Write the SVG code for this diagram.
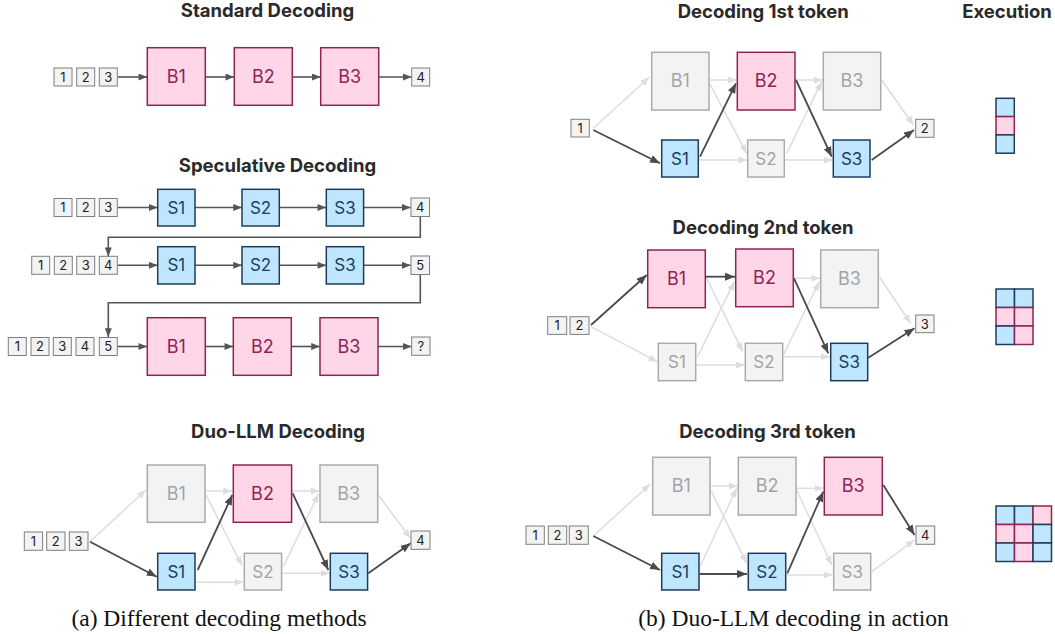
<svg xmlns="http://www.w3.org/2000/svg" width="1055" height="634" viewBox="0 0 1055 634">
<defs>
<style>
.title{font-family:Inter,"Liberation Sans",sans-serif;font-weight:700;font-size:18.5px;fill:#2a2a2a;text-anchor:middle}
.cap{font-family:"Liberation Serif","Times New Roman",serif;font-size:23.5px;fill:#111;text-anchor:middle}
.bp{fill:#FFD6E8;stroke:#8E2453;stroke-width:1.5}
.sb{fill:#BFE6FF;stroke:#1D3C5C;stroke-width:1.5}
.gb{fill:#F3F3F3;stroke:#A8ABAF;stroke-width:1.5}
.tk{fill:#F3F3F3;stroke:#7F7F7F;stroke-width:1}
.lb{font-family:Inter,"Liberation Sans",sans-serif;font-size:18px;text-anchor:middle}
.ls{font-family:Inter,"Liberation Sans",sans-serif;font-size:17px;text-anchor:middle}
.tt{font-family:Inter,"Liberation Sans",sans-serif;font-size:13px;fill:#222;text-anchor:middle}
.tp{fill:#8E2453}.tb{fill:#1B3E64}.tg{fill:#A0A4A9}
.ad{fill:none;stroke:#4A4A4A;stroke-width:1.8;marker-end:url(#hd)}
.am{fill:none;stroke:#555;stroke-width:1.6;marker-end:url(#hm)}
.al{fill:none;stroke:#DDDDDD;stroke-width:1.5;marker-end:url(#hl)}
.cs{fill:#BFE6FF;stroke:#1D3C5C;stroke-width:1.5}
.cp{fill:#FFD6E8;stroke:#8E2453;stroke-width:1.5}
</style>
<marker id="hd" viewBox="0 0 10 8" refX="10" refY="4" markerWidth="10" markerHeight="8" markerUnits="userSpaceOnUse" orient="auto"><path d="M0,0 L10,4 L0,8 z" fill="#4A4A4A"/></marker>
<marker id="hm" viewBox="0 0 10 8" refX="10" refY="4" markerWidth="9" markerHeight="7" markerUnits="userSpaceOnUse" orient="auto"><path d="M0,0 L10,4 L0,8 z" fill="#555"/></marker>
<marker id="hl" viewBox="0 0 10 8" refX="10" refY="4" markerWidth="9" markerHeight="7" markerUnits="userSpaceOnUse" orient="auto"><path d="M0,0 L10,4 L0,8 z" fill="#DDDDDD"/></marker>
</defs>
<rect width="1055" height="634" fill="#fff"/>

<!-- Titles -->
<text class="title" x="267.5" y="17">Standard Decoding</text>
<text class="title" x="277.5" y="172">Speculative Decoding</text>
<text class="title" x="278" y="438">Duo-LLM Decoding</text>
<text class="title" x="763.3" y="18">Decoding 1st token</text>
<text class="title" x="763" y="234">Decoding 2nd token</text>
<text class="title" x="767.5" y="438">Decoding 3rd token</text>
<text class="title" x="1007" y="18">Execution</text>

<!-- Connectors -->
<g id="connectors">
<!-- standard -->
<line class="am" x1="118" y1="77" x2="147.3" y2="77"/>
<line class="am" x1="206" y1="77" x2="234.3" y2="77"/>
<line class="am" x1="292" y1="77" x2="320.7" y2="77"/>
<line class="am" x1="378.5" y1="77" x2="411.7" y2="77"/>
<!-- speculative row1 -->
<line class="am" x1="117.5" y1="207.5" x2="157.7" y2="207.5"/>
<line class="am" x1="195" y1="207.5" x2="242" y2="207.5"/>
<line class="am" x1="279.3" y1="207.5" x2="326.3" y2="207.5"/>
<line class="am" x1="363.6" y1="207.5" x2="410.7" y2="207.5"/>
<path class="am" d="M420.3,216.5 V237.3 H108.3 V256.3"/>
<!-- row2 -->
<line class="am" x1="117.5" y1="265.3" x2="157.7" y2="265.3"/>
<line class="am" x1="195" y1="265.3" x2="242" y2="265.3"/>
<line class="am" x1="279.3" y1="265.3" x2="326.3" y2="265.3"/>
<line class="am" x1="363.6" y1="265.3" x2="410.7" y2="265.3"/>
<path class="am" d="M420.3,274.3 V302.7 H108.3 V337"/>
<!-- row3 -->
<line class="am" x1="117.5" y1="346.5" x2="147.3" y2="346.5"/>
<line class="am" x1="205" y1="346.5" x2="233.3" y2="346.5"/>
<line class="am" x1="291" y1="346.5" x2="320" y2="346.5"/>
<line class="am" x1="377.7" y1="346.5" x2="411.7" y2="346.5"/>

<!-- Duo-LLM -->
<line class="al" x1="90" y1="541.7" x2="145.7" y2="490"/>
<line class="al" x1="205.5" y1="491" x2="232" y2="491"/>
<line class="al" x1="205.5" y1="494" x2="242" y2="565.5"/>
<line class="al" x1="195.5" y1="582.3" x2="243.5" y2="582.3"/>
<line class="al" x1="292" y1="491" x2="319.5" y2="491"/>
<line class="al" x1="283.3" y1="566.7" x2="318.5" y2="494"/>
<line class="al" x1="282" y1="573.3" x2="329.5" y2="573.3"/>
<line class="al" x1="378.3" y1="495" x2="410.5" y2="538.3"/>
<line class="ad" x1="90" y1="541.7" x2="156.7" y2="576.7"/>
<line class="ad" x1="197.7" y1="570" x2="232.3" y2="495"/>
<line class="ad" x1="292.7" y1="493.3" x2="328.3" y2="570"/>
<line class="ad" x1="368.3" y1="573.3" x2="410.7" y2="543.3"/>

<!-- 1st token -->
<line class="al" x1="593.3" y1="128.3" x2="649.3" y2="77.3"/>
<line class="al" x1="709.5" y1="80" x2="736.5" y2="80"/>
<line class="al" x1="709.5" y1="83.3" x2="746.7" y2="153.3"/>
<line class="al" x1="699" y1="160" x2="747" y2="160"/>
<line class="al" x1="795.5" y1="80" x2="822.5" y2="80"/>
<line class="al" x1="786.7" y1="153.3" x2="821.7" y2="81.7"/>
<line class="al" x1="785" y1="160" x2="832.5" y2="160"/>
<line class="al" x1="881.7" y1="80" x2="913.5" y2="125"/>
<line class="ad" x1="593.3" y1="130" x2="660" y2="163.3"/>
<line class="ad" x1="700" y1="156.7" x2="736" y2="83.3"/>
<line class="ad" x1="796" y1="80" x2="831.7" y2="156.7"/>
<line class="ad" x1="871.7" y1="160" x2="914" y2="130"/>

<!-- 2nd token -->
<line class="al" x1="591" y1="326.7" x2="657.3" y2="361.7"/>
<line class="al" x1="706.7" y1="278.3" x2="742.7" y2="351.7"/>
<line class="al" x1="697.7" y1="356.7" x2="734.3" y2="281.7"/>
<line class="al" x1="696.5" y1="365" x2="744.5" y2="365"/>
<line class="al" x1="794" y1="278.3" x2="820" y2="278.3"/>
<line class="al" x1="783.3" y1="355" x2="819.3" y2="281.7"/>
<line class="al" x1="783.5" y1="356.7" x2="830" y2="356.7"/>
<line class="al" x1="879.3" y1="276.7" x2="910.7" y2="323.3"/>
<line class="ad" x1="591" y1="325" x2="646.7" y2="275"/>
<line class="ad" x1="705.5" y1="276.7" x2="735" y2="276.7"/>
<line class="ad" x1="794" y1="278.3" x2="828.3" y2="353.3"/>
<line class="ad" x1="868.3" y1="357.7" x2="914.5" y2="328.3"/>

<!-- 3rd token -->
<line class="al" x1="593.3" y1="536" x2="650" y2="484.3"/>
<line class="al" x1="710.5" y1="486" x2="737.5" y2="486"/>
<line class="al" x1="711" y1="490.7" x2="746.7" y2="563.3"/>
<line class="al" x1="700" y1="566.7" x2="736.7" y2="488.3"/>
<line class="al" x1="796.5" y1="488.3" x2="823.5" y2="488.3"/>
<line class="al" x1="796.7" y1="490" x2="831.7" y2="565"/>
<line class="al" x1="786.5" y1="575" x2="832.5" y2="575"/>
<line class="al" x1="871.7" y1="571.7" x2="914.5" y2="540"/>
<line class="ad" x1="593.3" y1="536" x2="660" y2="570"/>
<line class="ad" x1="699.5" y1="574" x2="747" y2="574"/>
<line class="ad" x1="787.3" y1="573.3" x2="823.3" y2="491.7"/>
<line class="ad" x1="883.3" y1="485" x2="914.5" y2="535"/>
</g>

<!-- Standard Decoding nodes -->
<g id="std-tokens">
<rect class="tk" x="54" y="68" width="18" height="18"/><text class="tt" x="63" y="81.7">1</text>
<rect class="tk" x="76.7" y="68" width="18" height="18"/><text class="tt" x="85.7" y="81.7">2</text>
<rect class="tk" x="99.3" y="68" width="18" height="18"/><text class="tt" x="108.3" y="81.7">3</text>
</g>
<g id="std-B1"><rect class="bp" x="147.3" y="47.7" width="58" height="57.6"/><text class="lb tp" x="176.3" y="83.3">B1</text></g>
<g id="std-B2"><rect class="bp" x="234.3" y="47.7" width="58" height="57.6"/><text class="lb tp" x="263.3" y="83.3">B2</text></g>
<g id="std-B3"><rect class="bp" x="320.7" y="47.7" width="58" height="57.6"/><text class="lb tp" x="349.7" y="83.3">B3</text></g>
<g id="std-out"><rect class="tk" x="411.7" y="68" width="18" height="18"/><text class="tt" x="420.7" y="81.7">4</text></g>

<!-- Speculative nodes -->
<g id="spec-tokens1">
<rect class="tk" x="54" y="198.5" width="18" height="18"/><text class="tt" x="63" y="212.2">1</text>
<rect class="tk" x="76.7" y="198.5" width="18" height="18"/><text class="tt" x="85.7" y="212.2">2</text>
<rect class="tk" x="99.3" y="198.5" width="18" height="18"/><text class="tt" x="108.3" y="212.2">3</text>
</g>
<g id="spec-S1a"><rect class="sb" x="157.7" y="189.3" width="37.3" height="36.7"/><text class="ls tb" x="176.3" y="213.6">S1</text></g>
<g id="spec-S2a"><rect class="sb" x="242" y="189.3" width="37.3" height="36.7"/><text class="ls tb" x="260.6" y="213.6">S2</text></g>
<g id="spec-S3a"><rect class="sb" x="326.3" y="189.3" width="37.3" height="36.7"/><text class="ls tb" x="345" y="213.6">S3</text></g>
<g id="spec-out1"><rect class="tk" x="411" y="198" width="18.5" height="18.5"/><text class="tt" x="420.3" y="211.9">4</text></g>

<g id="spec-tokens2">
<rect class="tk" x="31.7" y="256.3" width="18" height="18"/><text class="tt" x="40.7" y="270">1</text>
<rect class="tk" x="54.3" y="256.3" width="18" height="18"/><text class="tt" x="63.3" y="270">2</text>
<rect class="tk" x="76.7" y="256.3" width="18" height="18"/><text class="tt" x="85.7" y="270">3</text>
<rect class="tk" x="99.3" y="256.3" width="18" height="18"/><text class="tt" x="108.3" y="270">4</text>
</g>
<g id="spec-S1b"><rect class="sb" x="157.7" y="246.7" width="37.3" height="37.3"/><text class="ls tb" x="176.3" y="271.3">S1</text></g>
<g id="spec-S2b"><rect class="sb" x="242" y="246.7" width="37.3" height="37.3"/><text class="ls tb" x="260.6" y="271.3">S2</text></g>
<g id="spec-S3b"><rect class="sb" x="326.3" y="246.7" width="37.3" height="37.3"/><text class="ls tb" x="345" y="271.3">S3</text></g>
<g id="spec-out2"><rect class="tk" x="411" y="256" width="18.5" height="18.5"/><text class="tt" x="420.3" y="269.9">5</text></g>

<g id="spec-tokens3">
<rect class="tk" x="8.3" y="337.5" width="18" height="18"/><text class="tt" x="17.3" y="351.2">1</text>
<rect class="tk" x="31" y="337.5" width="18" height="18"/><text class="tt" x="40" y="351.2">2</text>
<rect class="tk" x="53.3" y="337.5" width="18" height="18"/><text class="tt" x="62.3" y="351.2">3</text>
<rect class="tk" x="76" y="337.5" width="18" height="18"/><text class="tt" x="85" y="351.2">4</text>
<rect class="tk" x="99.3" y="337.5" width="18" height="18"/><text class="tt" x="108.3" y="351.2">5</text>
</g>
<g id="spec-B1"><rect class="bp" x="147.3" y="317.7" width="58" height="57.6"/><text class="lb tp" x="176.3" y="353.3">B1</text></g>
<g id="spec-B2"><rect class="bp" x="233.3" y="317.7" width="58" height="57.6"/><text class="lb tp" x="262.3" y="353.3">B2</text></g>
<g id="spec-B3"><rect class="bp" x="320" y="317.7" width="58" height="57.6"/><text class="lb tp" x="349" y="353.3">B3</text></g>
<g id="spec-out3"><rect class="tk" x="411.7" y="337" width="18.3" height="18.3"/><text class="tt" x="420.8" y="350.8">?</text></g>

<!-- Duo-LLM nodes -->
<g id="duo-tokens">
<rect class="tk" x="24.3" y="532" width="18.3" height="18.3"/><text class="tt" x="33.5" y="545.8">1</text>
<rect class="tk" x="46.7" y="532" width="18.3" height="18.3"/><text class="tt" x="55.8" y="545.8">2</text>
<rect class="tk" x="69.3" y="532" width="18.7" height="18.3"/><text class="tt" x="78.6" y="545.8">3</text>
</g>
<g id="duo-B1"><rect class="gb" x="147.3" y="465" width="57.7" height="57.3"/><text class="lb tg" x="176.2" y="500.2">B1</text></g>
<g id="duo-B2"><rect class="bp" x="233.3" y="465" width="58.3" height="57.3"/><text class="lb tp" x="262.5" y="500.2">B2</text></g>
<g id="duo-B3"><rect class="gb" x="320" y="465" width="57.7" height="57.3"/><text class="lb tg" x="348.8" y="500.2">B3</text></g>
<g id="duo-S1"><rect class="sb" x="157.7" y="553.3" width="37.3" height="36.7"/><text class="ls tb" x="176.3" y="577.7">S1</text></g>
<g id="duo-S2"><rect class="gb" x="244.3" y="553.3" width="37.3" height="36.7"/><text class="ls tg" x="263" y="577.7">S2</text></g>
<g id="duo-S3"><rect class="sb" x="330.3" y="553.3" width="37.3" height="36.7"/><text class="ls tb" x="349" y="577.7">S3</text></g>
<g id="duo-out"><rect class="tk" x="411" y="531" width="19" height="18.3"/><text class="tt" x="420.5" y="544.8">4</text></g>

<!-- Decoding 1st token -->
<g id="t1-in"><rect class="tk" x="571" y="119.3" width="18.3" height="17.7"/><text class="tt" x="580.2" y="132.8">1</text></g>
<g id="t1-B1"><rect class="gb" x="651.7" y="52.3" width="57.3" height="57.7"/><text class="lb tg" x="680.3" y="87.3">B1</text></g>
<g id="t1-B2"><rect class="bp" x="737.3" y="52.3" width="57.7" height="57.7"/><text class="lb tp" x="766.2" y="87.3">B2</text></g>
<g id="t1-B3"><rect class="gb" x="823.3" y="52.3" width="57.4" height="57.7"/><text class="lb tg" x="852" y="87.3">B3</text></g>
<g id="t1-S1"><rect class="sb" x="661.7" y="140" width="36.6" height="37"/><text class="ls tb" x="680" y="164.5">S1</text></g>
<g id="t1-S2"><rect class="gb" x="747.7" y="140" width="36.6" height="37"/><text class="ls tg" x="766" y="164.5">S2</text></g>
<g id="t1-S3"><rect class="sb" x="833.3" y="140" width="36.7" height="37"/><text class="ls tb" x="851.6" y="164.5">S3</text></g>
<g id="t1-out"><rect class="tk" x="915.7" y="119.3" width="18.3" height="18"/><text class="tt" x="924.8" y="133">2</text></g>

<!-- Decoding 2nd token -->
<g id="t2-in">
<rect class="tk" x="547.7" y="316.7" width="19" height="17.7"/><text class="tt" x="557.2" y="330.2">1</text>
<rect class="tk" x="570" y="316.7" width="19" height="17.7"/><text class="tt" x="579.5" y="330.2">2</text>
</g>
<g id="t2-B1"><rect class="bp" x="647.7" y="250" width="57.6" height="57.7"/><text class="lb tp" x="676.5" y="285">B1</text></g>
<g id="t2-B2"><rect class="bp" x="735.7" y="249" width="57.6" height="57.7"/><text class="lb tp" x="764.5" y="284">B2</text></g>
<g id="t2-B3"><rect class="gb" x="820.7" y="250" width="57.6" height="57.7"/><text class="lb tg" x="849.5" y="285">B3</text></g>
<g id="t2-S1"><rect class="gb" x="658.3" y="343.3" width="37.4" height="37.4"/><text class="ls tg" x="677" y="368">S1</text></g>
<g id="t2-S2"><rect class="gb" x="745.3" y="343.3" width="37.4" height="37.4"/><text class="ls tg" x="764" y="368">S2</text></g>
<g id="t2-S3"><rect class="sb" x="830.7" y="343.3" width="37" height="37.4"/><text class="ls tb" x="849.2" y="368">S3</text></g>
<g id="t2-out"><rect class="tk" x="915.7" y="315" width="18.3" height="17.7"/><text class="tt" x="924.8" y="328.5">3</text></g>

<!-- Decoding 3rd token -->
<g id="t3-in">
<rect class="tk" x="526" y="526" width="18.3" height="18.3"/><text class="tt" x="535.2" y="539.8">1</text>
<rect class="tk" x="548.3" y="526" width="18.4" height="18.3"/><text class="tt" x="557.5" y="539.8">2</text>
<rect class="tk" x="569.3" y="526" width="19" height="18.3"/><text class="tt" x="578.8" y="539.8">3</text>
</g>
<g id="t3-B1"><rect class="gb" x="652.7" y="457.3" width="57.3" height="57.7"/><text class="lb tg" x="681.3" y="492.3">B1</text></g>
<g id="t3-B2"><rect class="gb" x="738.3" y="457.3" width="57.7" height="57.7"/><text class="lb tg" x="767.2" y="492.3">B2</text></g>
<g id="t3-B3"><rect class="bp" x="824.3" y="457.3" width="58" height="57.7"/><text class="lb tp" x="853.3" y="492.3">B3</text></g>
<g id="t3-S1"><rect class="sb" x="661.7" y="553.3" width="37.3" height="36.7"/><text class="ls tb" x="680.3" y="577.7">S1</text></g>
<g id="t3-S2"><rect class="sb" x="748.3" y="553.3" width="37.4" height="36.7"/><text class="ls tb" x="767" y="577.7">S2</text></g>
<g id="t3-S3"><rect class="gb" x="833.7" y="553.3" width="37" height="36.7"/><text class="ls tg" x="852.2" y="577.7">S3</text></g>
<g id="t3-out"><rect class="tk" x="916" y="526" width="18.7" height="18.3"/><text class="tt" x="925.3" y="539.8">4</text></g>

<!-- Execution grids -->
<g id="exec1">
<rect class="cs" x="996" y="98.3" width="18.3" height="18.3"/>
<rect class="cp" x="996" y="116.6" width="18.3" height="18.3"/>
<rect class="cs" x="996" y="134.9" width="18.3" height="18.3"/>
</g>
<g id="exec2">
<rect class="cs" x="996" y="289" width="18.5" height="18.5"/>
<rect class="cs" x="1014.5" y="289" width="18.5" height="18.5"/>
<rect class="cp" x="996" y="307.5" width="18.5" height="18.5"/>
<rect class="cp" x="1014.5" y="307.5" width="18.5" height="18.5"/>
<rect class="cs" x="996" y="326" width="18.5" height="18.5"/>
<rect class="cp" x="1014.5" y="326" width="18.5" height="18.5"/>
</g>
<g id="exec3">
<rect class="cs" x="996" y="506" width="18.5" height="18.5"/>
<rect class="cs" x="1014.5" y="506" width="18.5" height="18.5"/>
<rect class="cp" x="1033" y="506" width="18.5" height="18.5"/>
<rect class="cp" x="996" y="524.5" width="18.5" height="18.5"/>
<rect class="cp" x="1014.5" y="524.5" width="18.5" height="18.5"/>
<rect class="cs" x="1033" y="524.5" width="18.5" height="18.5"/>
<rect class="cs" x="996" y="543" width="18.5" height="18.5"/>
<rect class="cp" x="1014.5" y="543" width="18.5" height="18.5"/>
<rect class="cs" x="1033" y="543" width="18.5" height="18.5"/>
</g>

<!-- Captions -->
<text class="cap" x="219" y="626">(a) Different decoding methods</text>
<text class="cap" x="793.5" y="626">(b) Duo-LLM decoding in action</text>
</svg>
